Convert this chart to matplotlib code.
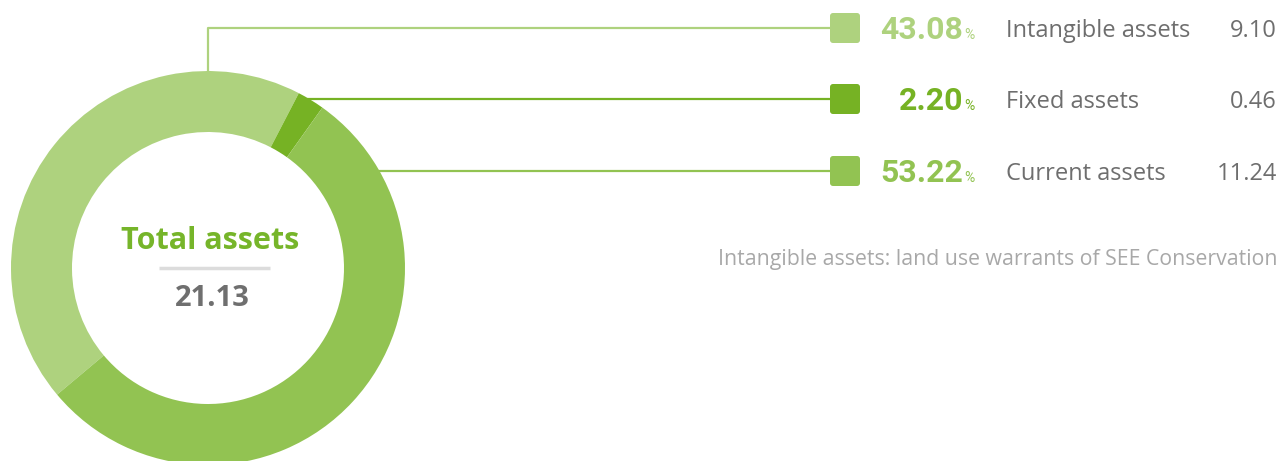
import matplotlib.pyplot as plt
from matplotlib.patches import FancyBboxPatch
import numpy as np

#-----Data-----#
categories = ["Intangible assets", "Fixed assets", "Current assets"]
percents = [43.08, 2.20, 53.22]
amounts = ["9.10", "0.46", "11.24"]
colors = ["#aed27e", "#76b224", "#92c352"]
total_label = "Total assets"
total_value = "21.13"
note = "Intangible assets: land use warrants of SEE Conservation"

W, H = 1282, 461
cx, cy, R, ring = 208, 268, 197, 61      # donut in image pixels
row_y = [28, 99, 171]                      # legend rows (image pixels)

def Y(y):                                  # image y -> axes y (y up)
    return H - y

#-----Plot-----#
fig = plt.figure(figsize=(W / 100, H / 100), dpi=100)
ax = fig.add_axes([0, 0, 1, 1])
ax.pie(percents, colors=colors, startangle=220, counterclock=False,
       radius=R, center=(cx, Y(cy)), frame=True,
       wedgeprops=dict(width=ring, linewidth=0))
ax.set_xlim(0, W)
ax.set_ylim(0, H)
ax.set_aspect('equal')
ax.axis('off')

# centre text
ax.text(cx + 2, Y(241), total_label, ha='center', va='center', fontsize=22,
        fontweight='bold', color="#76b52a", family='Open Sans')
ax.plot([159, 270], [Y(268), Y(268)], color="#dcdcdc", lw=2.5, solid_capstyle='butt')
ax.text(cx + 4, Y(299), total_value, ha='center', va='center', fontsize=21,
        fontweight='bold', color="#6f6f6f", family='Open Sans')

# leader lines, squares, labels
sq_x, sq = 830, 30
for i, (cat, p, amt, c) in enumerate(zip(categories, percents, amounts, colors)):
    y = row_y[i]
    dy = abs(y - cy)
    if dy < R:
        x0 = cx + np.sqrt(R ** 2 - dy ** 2) - 1
        ax.plot([x0, sq_x], [Y(y), Y(y)], color=c, lw=1.6)
    else:
        ax.plot([cx, cx, sq_x], [Y(cy - R), Y(y), Y(y)], color=c, lw=1.6)
    ax.add_patch(FancyBboxPatch((sq_x, Y(y) - sq / 2), sq, sq,
                                boxstyle="round,pad=0,rounding_size=3",
                                fc=c, ec='none'))
    ax.text(963, Y(y) - 11, f"{p:.2f}", ha='right', va='baseline', fontsize=23,
            fontweight='bold', color=c, family='Roboto')
    ax.text(964, Y(y) - 11, "%", ha='left', va='baseline', fontsize=10,
            color=c, family='Roboto')
    ax.text(1006, Y(y) - 3, cat, ha='left', va='center', fontsize=17,
            color="#6e6e6e", family='Open Sans')
    ax.text(1277, Y(y) - 3, amt, ha='right', va='center', fontsize=17,
            color="#6e6e6e", family='Open Sans')

ax.text(1277, Y(259), note, ha='right', va='center', fontsize=15.3,
        color="#a8a8a8", family='Open Sans')

fig.savefig("out.png", dpi=100)
